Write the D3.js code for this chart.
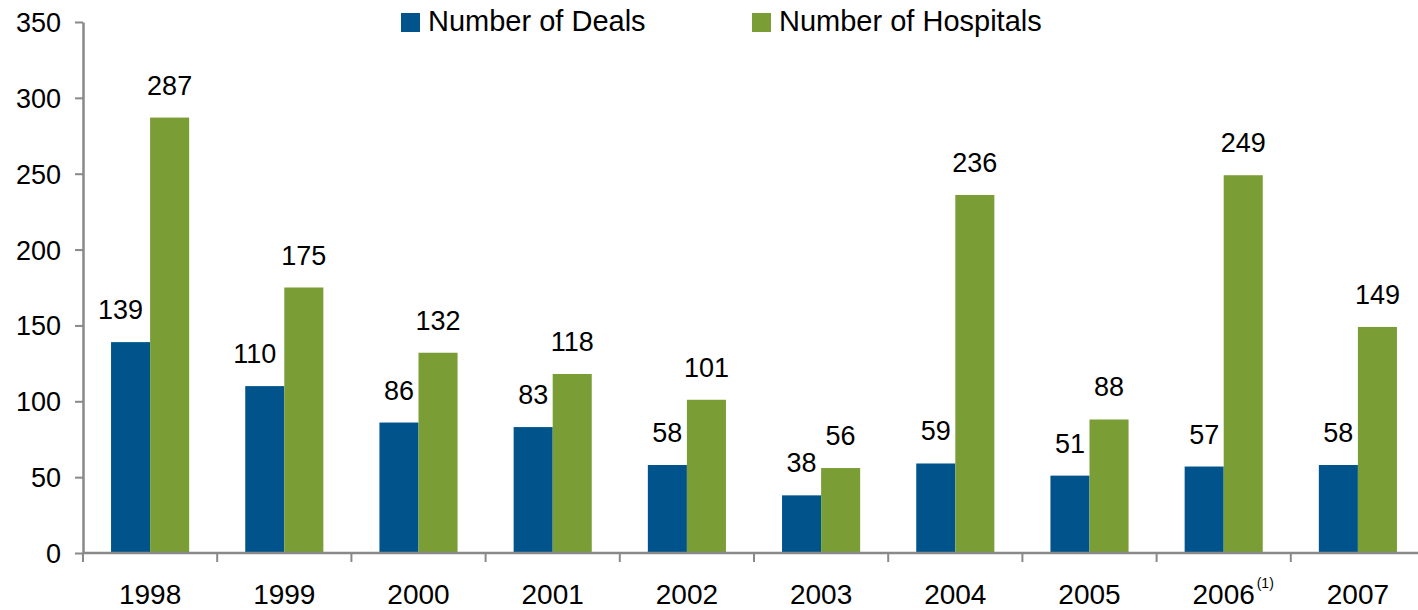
<!DOCTYPE html>
<html>
<head>
<meta charset="utf-8">
<script src="https://cdn.jsdelivr.net/npm/d3@7"></script>
<style>
  body { margin: 0; background: #fff; }
  text { font-family: Arial, "Liberation Sans", sans-serif; fill: #000; }
</style>
</head>
<body>
<div id="chart"></div>
<script>
var years = ['1998','1999','2000','2001','2002','2003','2004','2005','2006','2007']
var deals = [139, 110, 86, 83, 58, 38, 59, 51, 57, 58]
var hospitals = [287, 175, 132, 118, 101, 56, 236, 88, 249, 149]
var seriesNames = ['Number of Deals', 'Number of Hospitals']
var yTicks = [0, 50, 100, 150, 200, 250, 300, 350]
var footnotes = {'2006': '(1)'}

var width = 1418, height = 610
var colors = ['#00548b', '#7a9e35']
var axisColor = '#898989'

var svg = d3.select('#chart')
  .append('svg')
  .attr('width', width)
  .attr('height', height);

var x = d3.scaleBand().domain(years).range([83, 1425]).padding(0)
var x1 = d3.scaleBand().domain([0, 1]).range([0, x.bandwidth()]).paddingInner(0).paddingOuter(0.718)
var y = d3.scaleLinear().domain([0, 350]).range([553, 22])

// y axis
var axisY = d3.axisLeft(y).tickValues(yTicks).tickSize(8).tickSizeOuter(0).tickPadding(14)
var gy = svg.append('g')
  .attr('transform', 'translate(83,0)')
  .call(axisY);
gy.select('.domain').attr('stroke', axisColor).attr('stroke-width', 2.5)
gy.selectAll('.tick line').attr('stroke', axisColor).attr('stroke-width', 2)
gy.selectAll('.tick text').style('font-size', '27px').attr('dy', '0.35em')

// bars
var groups = svg.selectAll('.year')
  .data(years)
  .enter()
  .append('g')
  .attr('transform', function(d) { return 'translate(' + x(d) + ',0)'; });

var series = [deals, hospitals]
series.forEach(function(vals, s) {
  groups.append('rect')
    .attr('x', x1(s))
    .attr('width', x1.bandwidth())
    .attr('y', function(d, i) { return y(vals[i]); })
    .attr('height', function(d, i) { return y(0) - y(vals[i]); })
    .attr('fill', colors[s]);
  groups.append('text')
    .attr('x', function(d, i) {
      var c = x1(s) + x1.bandwidth() / 2
      // three digit blue labels sit a bit to the left
      if (s === 0 && vals[i] >= 100) c -= 10
      return c
    })
    .attr('y', function(d, i) { return y(vals[i]) - 23; })
    .attr('text-anchor', 'middle')
    .style('font-size', '27px')
    .text(function(d, i) { return vals[i]; });
});

// x axis
svg.append('line')
  .attr('x1', 83).attr('x2', width)
  .attr('y1', y(0)).attr('y2', y(0))
  .attr('stroke', axisColor).attr('stroke-width', 2.5)
var bounds = years.map(function(d) { return x(d); }).concat([x.range()[1]])
svg.selectAll('.xtick')
  .data(bounds)
  .enter()
  .append('line')
  .attr('x1', function(d) { return d; })
  .attr('x2', function(d) { return d; })
  .attr('y1', y(0)).attr('y2', y(0) + 9)
  .attr('stroke', axisColor).attr('stroke-width', 2)

var xl = svg.selectAll('.xlabel')
  .data(years)
  .enter()
  .append('text')
  .attr('x', function(d) { return x(d) + x.bandwidth() / 2; })
  .attr('y', 604)
  .attr('text-anchor', 'middle')
  .style('font-size', '28px')
  .text(function(d) { return d; })
svg.append('text')
  .attr('x', x('2006') + x.bandwidth() / 2 + 33)
  .attr('y', 588)
  .style('font-size', '14px')
  .text(footnotes['2006'])

// legend
var legendX = [401, 752]
seriesNames.forEach(function(name, s) {
  svg.append('rect')
    .attr('x', legendX[s]).attr('y', 13)
    .attr('width', 19).attr('height', 19)
    .attr('fill', colors[s]);
  svg.append('text')
    .attr('x', legendX[s] + 27)
    .attr('y', 31)
    .style('font-size', '29px')
    .text(name);
});
</script>
</body>
</html>
